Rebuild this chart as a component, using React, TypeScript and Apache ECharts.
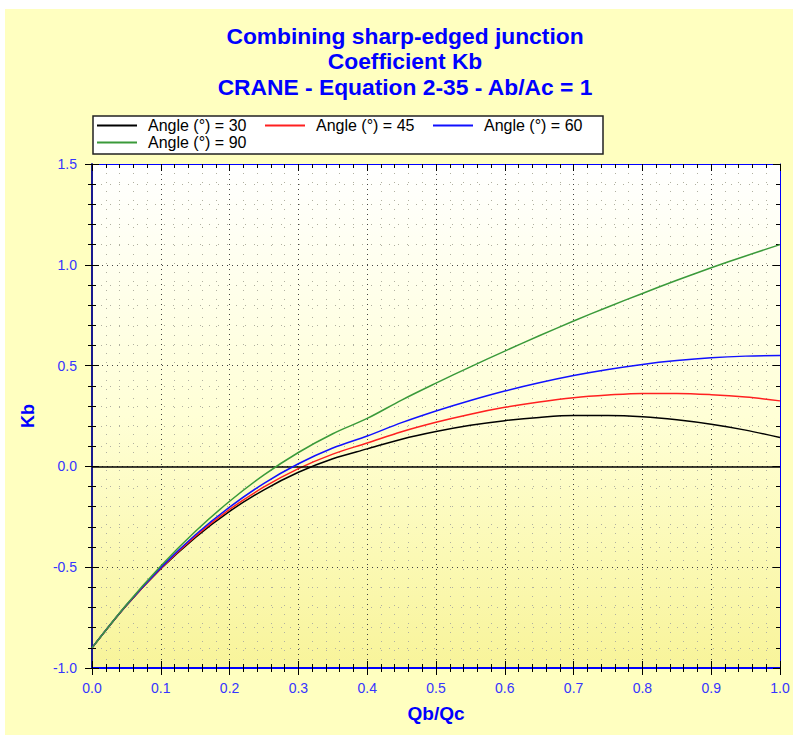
import React, { useEffect, useRef } from "react";
import * as echarts from "echarts";

const Q = [0, 0.05, 0.1, 0.15, 0.2, 0.25, 0.3, 0.35, 0.4, 0.45, 0.5, 0.55, 0.6, 0.65, 0.7, 0.75, 0.8, 0.85, 0.9, 0.95, 1.0];
const K30 = [-0.9, -0.69, -0.508, -0.353, -0.223, -0.116, -0.029, 0.038, 0.087, 0.135, 0.173, 0.204, 0.227, 0.243, 0.252, 0.252, 0.246, 0.231, 0.209, 0.18, 0.143];
const K45 = [-0.9, -0.689, -0.506, -0.347, -0.213, -0.102, -0.011, 0.061, 0.116, 0.172, 0.219, 0.259, 0.293, 0.32, 0.341, 0.354, 0.362, 0.362, 0.356, 0.344, 0.325];
const K60 = [-0.9, -0.688, -0.502, -0.34, -0.202, -0.084, 0.013, 0.091, 0.151, 0.217, 0.275, 0.327, 0.374, 0.415, 0.451, 0.481, 0.506, 0.525, 0.539, 0.547, 0.55];
const K90 = [-0.9, -0.686, -0.494, -0.323, -0.173, -0.042, 0.069, 0.162, 0.238, 0.329, 0.413, 0.494, 0.572, 0.648, 0.721, 0.791, 0.858, 0.923, 0.985, 1.044, 1.1];

const SERIES_NAMES = ["Angle (°) = 30", "Angle (°) = 45", "Angle (°) = 60", "Angle (°) = 90"];
const SERIES_COLORS = ["#000000", "#FF2020", "#1010FF", "#3A9A3A"];
const TITLE_LINES = ["Combining sharp-edged junction", "Coefficient Kb", "CRANE - Equation 2-35 - Ab/Ac = 1"];
const X_NAME = "Qb/Qc";
const Y_NAME = "Kb";

const FONT = '"Liberation Sans", Arial, sans-serif';
const OX = 5;
const OY = 9;

export default function App() {
  const ref = useRef<HTMLDivElement>(null);
  useEffect(() => {
    if (!ref.current) return;
    const chart = echarts.init(ref.current, undefined, { renderer: "svg" });
    const all = [K30, K45, K60, K90];
    const gridLeft = 92 - OX;
    const gridTop = 164 - OY;
    const gridW = 688;
    const gridH = 504;
    const W = 788;
    const H = 726;

    const majorSplit = { show: true, lineStyle: { color: "#444", type: [1, 4], width: 1 } };
    const minorSplit = { show: true, lineStyle: { color: "#b0b0a0", type: [1, 8], width: 1 } };

    const xBase = { type: "value", min: 0, max: 1, interval: 0.1 };
    const yBase = { type: "value", min: -1, max: 1.5, interval: 0.5 };

    const option: any = {
      animation: false,
      backgroundColor: "#FFFFC0",
      grid: {
        left: gridLeft,
        top: gridTop,
        right: W - gridLeft - gridW,
        bottom: H - gridTop - gridH,
        show: true,
        borderWidth: 0,
        backgroundColor: new echarts.graphic.LinearGradient(0, 0, 0, 1, [
          { offset: 0, color: "#FFFFFF" },
          { offset: 0.5, color: "#FFFFD6" },
          { offset: 1, color: "#F8F49A" },
        ]),
      },
      graphic: TITLE_LINES.map((t, i) => ({
        type: "text",
        x: 405 - OX,
        y: [36, 61, 87][i] - OY,
        style: {
          text: t,
          fill: "#0000FF",
          font: `bold 22.8px ${FONT}`,
          textAlign: "center",
          textVerticalAlign: "middle",
        },
      })),
      legend: {
        left: 93 - OX,
        top: 116 - OY,
        orient: "horizontal",
        width: 512,
        padding: [1, 2, 3, 4],
        itemGap: 0,
        itemWidth: 40,
        itemHeight: 2,
        icon: "rect",
        backgroundColor: "#FFFFFF",
        borderColor: "#222",
        borderWidth: 1.5,
        textStyle: {
          fontFamily: FONT,
          fontSize: 16,
          color: "#000",
          lineHeight: 17,
          width: 117,
          padding: [0, 0, 0, 6],
        },
        data: SERIES_NAMES,
      },
      xAxis: [
        {
          ...xBase,
          position: "bottom",
          name: X_NAME,
          nameLocation: "middle",
          nameGap: 36,
          nameTextStyle: { color: "#0000FF", fontWeight: "bold", fontSize: 19, fontFamily: FONT },
          axisLine: { show: true, onZero: false, lineStyle: { color: "#0000FF", width: 2 } },
          axisTick: { show: true, inside: false, length: 7, lineStyle: { color: "#000" } },
          minorTick: { show: true, splitNumber: 5, length: 4, lineStyle: { color: "#000" } },
          axisLabel: {
            color: "#3535FF",
            fontFamily: FONT,
            fontSize: 14,
            margin: 13,
            formatter: (v: number) => v.toFixed(1),
          },
          splitLine: majorSplit,
          minorSplitLine: minorSplit,
        },
        {
          ...xBase,
          position: "bottom",
          axisLine: { show: false, onZero: false },
          axisTick: { show: true, inside: true, length: 7, lineStyle: { color: "#000" } },
          minorTick: { show: true, splitNumber: 5, length: 4, lineStyle: { color: "#000" } },
          axisLabel: { show: false },
          splitLine: { show: false },
        },
        {
          ...xBase,
          position: "top",
          axisLine: { show: true, onZero: false, lineStyle: { color: "#0000FF", width: 1 } },
          axisTick: { show: true, inside: true, length: 7, lineStyle: { color: "#000" } },
          minorTick: { show: true, splitNumber: 5, length: 4, lineStyle: { color: "#000" } },
          axisLabel: { show: false },
          splitLine: { show: false },
        },
      ],
      yAxis: [
        {
          ...yBase,
          position: "left",
          name: Y_NAME,
          nameLocation: "middle",
          nameGap: 55,
          nameTextStyle: { color: "#0000FF", fontWeight: "bold", fontSize: 18, fontFamily: FONT },
          axisLine: { show: true, onZero: false, lineStyle: { color: "#1A1A90", width: 2 } },
          axisTick: { show: true, inside: false, length: 7, lineStyle: { color: "#000" } },
          minorTick: { show: true, splitNumber: 5, length: 4, lineStyle: { color: "#000" } },
          axisLabel: {
            color: "#3535FF",
            fontFamily: FONT,
            fontSize: 14,
            margin: 15,
            formatter: (v: number) => v.toFixed(1),
          },
          splitLine: majorSplit,
          minorSplitLine: minorSplit,
        },
        {
          ...yBase,
          position: "left",
          axisLine: { show: false, onZero: false },
          axisTick: { show: true, inside: true, length: 7, lineStyle: { color: "#000" } },
          minorTick: { show: true, splitNumber: 5, length: 4, lineStyle: { color: "#000" } },
          axisLabel: { show: false },
          splitLine: { show: false },
        },
        {
          ...yBase,
          position: "right",
          axisLine: { show: true, onZero: false, lineStyle: { color: "#0000FF", width: 1 } },
          axisTick: { show: true, inside: true, length: 7, lineStyle: { color: "#000" } },
          minorTick: { show: true, splitNumber: 5, length: 4, lineStyle: { color: "#000" } },
          axisLabel: { show: false },
          splitLine: { show: false },
        },
      ],
      series: SERIES_NAMES.map((name, i) => ({
        name,
        type: "line",
        xAxisIndex: 0,
        yAxisIndex: 0,
        data: Q.map((q, j) => [q, all[i][j]]),
        showSymbol: false,
        symbol: "none",
        smooth: 0.35,
        lineStyle: { color: SERIES_COLORS[i], width: 1.5 },
        itemStyle: { color: SERIES_COLORS[i] },
        z: 3 + i,
        markLine:
          i === 0
            ? {
                silent: true,
                symbol: "none",
                label: { show: false },
                lineStyle: { color: "#000", type: "solid", width: 1.5 },
                data: [{ yAxis: 0 }],
              }
            : undefined,
      })),
    };
    chart.setOption(option);
    return () => chart.dispose();
  }, []);

  return (
    <div style={{ position: "absolute", left: 0, top: 0, width: 793, height: 735, background: "#fff" }}>
      <div ref={ref} style={{ position: "absolute", left: OX, top: OY, width: 788, height: 726 }} />
    </div>
  );
}
